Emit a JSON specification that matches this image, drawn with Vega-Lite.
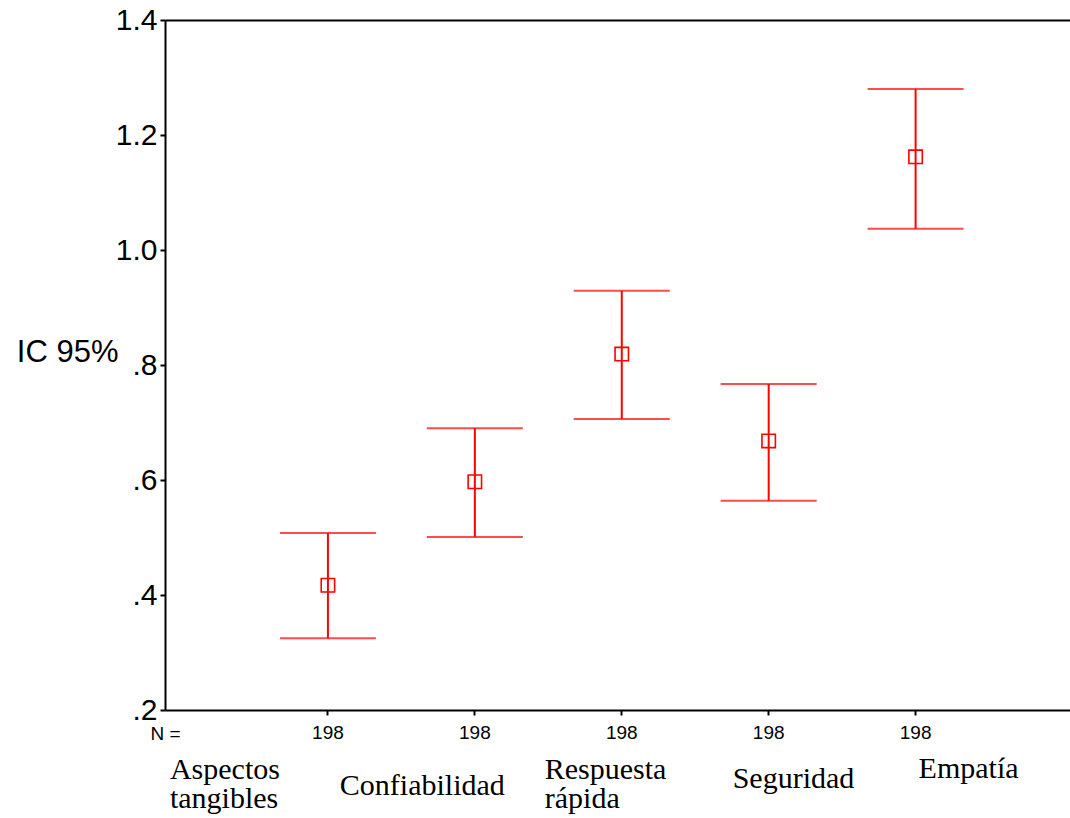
{
  "$schema": "https://vega.github.io/schema/vega-lite/v6.json",
  "width": 905,
  "height": 690,
  "autosize": {"type": "none"},
  "padding": {"left": 165, "top": 20, "right": 0, "bottom": 108},
  "background": "white",
  "config": {
    "view": {"stroke": null},
    "axis": {"grid": false, "domainColor": "black", "domainWidth": 2, "tickColor": "black", "tickWidth": 2, "labelColor": "black", "titleColor": "black"}
  },
  "data": {
    "values": [
      {"cat": "Aspectos tangibles", "n": 198, "mean": 0.417, "lower": 0.325, "upper": 0.508},
      {"cat": "Confiabilidad", "n": 198, "mean": 0.597, "lower": 0.501, "upper": 0.690},
      {"cat": "Respuesta rápida", "n": 198, "mean": 0.819, "lower": 0.706, "upper": 0.929},
      {"cat": "Seguridad", "n": 198, "mean": 0.668, "lower": 0.564, "upper": 0.767},
      {"cat": "Empatía", "n": 198, "mean": 1.162, "lower": 1.037, "upper": 1.280}
    ]
  },
  "layer": [
    {
      "mark": {"type": "rule", "color": "#ff0000", "strokeWidth": 2},
      "encoding": {
        "x": {
          "field": "cat", "type": "nominal", "sort": null,
          "scale": {"type": "band", "paddingInner": 0, "paddingOuter": 0.58, "align": 0.525},
          "axis": {
            "orient": "bottom", "labelExpr": "'198'", "labelAngle": 0,
            "labelFont": "Liberation Sans", "labelFontSize": 19, "labelBaseline": "middle", "labelPadding": 17,
            "tickSize": 5, "tickBand": "center",
            "title": "N =", "titleFont": "Liberation Sans", "titleFontSize": 19, "titleFontWeight": "normal",
            "titleAlign": "left", "titleBaseline": "middle", "titleX": -15, "titleY": 23
          }
        },
        "y": {
          "field": "lower", "type": "quantitative",
          "scale": {"domain": [0.2, 1.4], "nice": false, "zero": false},
          "axis": {
            "orient": "left", "values": [0.2, 0.4, 0.6, 0.8, 1.0, 1.2, 1.4],
            "labelExpr": "datum.value < 1 ? replace(format(datum.value, '.1f'), '0.', '.') : format(datum.value, '.1f')",
            "labelFont": "Liberation Sans", "labelFontSize": 30, "labelPadding": 3, "tickSize": 5,
            "title": "IC 95%", "titleAngle": 0, "titleAlign": "right", "titleBaseline": "middle",
            "titleX": -47, "titleY": 332, "titleFont": "Liberation Sans", "titleFontSize": 31, "titleFontWeight": "normal"
          }
        },
        "y2": {"field": "upper"}
      }
    },
    {
      "mark": {"type": "tick", "color": "#ff0000", "thickness": 2, "size": 96},
      "encoding": {
        "x": {
          "field": "cat", "type": "nominal", "sort": null,
          "axis": {
            "orient": "bottom", "domain": false, "ticks": false, "tickSize": 0, "labelAngle": 0,
            "labelExpr": "split(datum.label, ' ')",
            "labelFont": "Liberation Serif", "labelFontSize": 30, "labelBaseline": "alphabetic",
            "labelAlign": "left", "labelOverlap": false,
            "labelOffset": {"condition": [
              {"test": "datum.label == 'Aspectos tangibles'", "value": -158},
              {"test": "datum.label == 'Confiabilidad'", "value": -135},
              {"test": "datum.label == 'Respuesta rápida'", "value": -77},
              {"test": "datum.label == 'Seguridad'", "value": -36}
            ], "value": 3},
            "labelPadding": {"condition": [
              {"test": "datum.label == 'Aspectos tangibles'", "value": 68},
              {"test": "datum.label == 'Confiabilidad'", "value": 84},
              {"test": "datum.label == 'Respuesta rápida'", "value": 68},
              {"test": "datum.label == 'Seguridad'", "value": 77}
            ], "value": 67},
            "labelLineHeight": 29, "title": null
          }
        },
        "y": {"field": "upper", "type": "quantitative", "title": "IC 95%"}
      }
    },
    {
      "mark": {"type": "tick", "color": "#ff0000", "thickness": 2, "size": 96},
      "encoding": {
        "x": {
          "field": "cat", "type": "nominal", "sort": null,
          "axis": {"orient": "top", "labels": false, "ticks": false, "domain": true, "title": null}
        },
        "y": {"field": "lower", "type": "quantitative", "title": "IC 95%"}
      }
    },
    {
      "mark": {"type": "point", "shape": "square", "filled": false, "color": "#ff0000", "strokeWidth": 1.6, "size": 180, "opacity": 1},
      "encoding": {
        "x": {"field": "cat", "type": "nominal", "sort": null, "axis": null},
        "y": {"field": "mean", "type": "quantitative", "title": "IC 95%"}
      }
    }
  ],
  "resolve": {"axis": {"x": "independent"}}
}
